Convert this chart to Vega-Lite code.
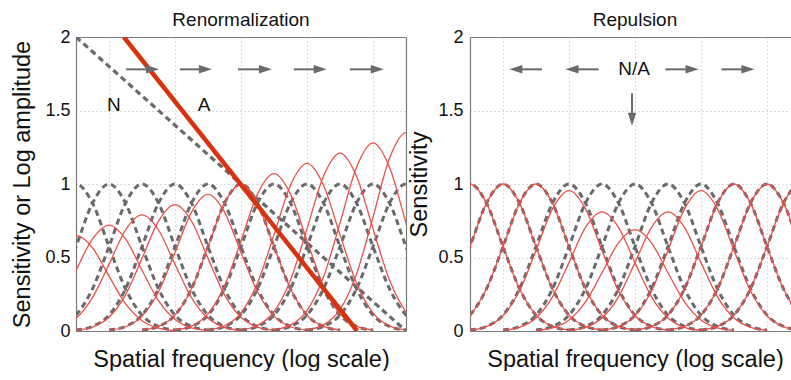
{
 "$schema": "https://vega.github.io/schema/vega-lite/v6.json",
 "padding": {"left": 10, "top": 11, "right": 0, "bottom": 0},
 "background": "white",
 "config": {
  "font": "Liberation Sans",
  "view": {"stroke": null},
  "axis": {"domainColor": "#7a7a7a", "domainWidth": 1.2, "gridColor": "#b8b8b8", "gridDash": [1, 3], "gridWidth": 1, "labelColor": "#111", "labelFontSize": 18, "titleColor": "#111", "titleFontWeight": "normal", "titleFontSize": 23.5, "ticks": false},
  "title": {"fontSize": 19, "fontWeight": "normal", "color": "#111", "baseline": "alphabetic", "offset": -2}
 },
 "spacing": 64,
 "bounds": "flush",
 "datasets": {
  "gray": [
   {"c":0,"x":-0.5,"y":0.87},{"c":0,"x":0,"y":1},{"c":0,"x":0.5,"y":0.87},{"c":0,"x":1,"y":0.574},{"c":0,"x":1.5,"y":0.287},{"c":0,"x":2,"y":0.108},{"c":0,"x":2.5,"y":0.031},{"c":0,"x":3,"y":0.007},
   {"c":1,"x":-0.5,"y":0.287},{"c":1,"x":0,"y":0.574},{"c":1,"x":0.5,"y":0.87},{"c":1,"x":1,"y":1},{"c":1,"x":1.5,"y":0.87},{"c":1,"x":2,"y":0.574},{"c":1,"x":2.5,"y":0.287},{"c":1,"x":3,"y":0.108},{"c":1,"x":3.5,"y":0.031},{"c":1,"x":4,"y":0.007},
   {"c":2,"x":-0.5,"y":0.031},{"c":2,"x":0,"y":0.108},{"c":2,"x":0.5,"y":0.287},{"c":2,"x":1,"y":0.574},{"c":2,"x":1.5,"y":0.87},{"c":2,"x":2,"y":1},{"c":2,"x":2.5,"y":0.87},{"c":2,"x":3,"y":0.574},{"c":2,"x":3.5,"y":0.287},{"c":2,"x":4,"y":0.108},{"c":2,"x":4.5,"y":0.031},{"c":2,"x":5,"y":0.007},
   {"c":3,"x":0,"y":0.007},{"c":3,"x":0.5,"y":0.031},{"c":3,"x":1,"y":0.108},{"c":3,"x":1.5,"y":0.287},{"c":3,"x":2,"y":0.574},{"c":3,"x":2.5,"y":0.87},{"c":3,"x":3,"y":1},{"c":3,"x":3.5,"y":0.87},{"c":3,"x":4,"y":0.574},{"c":3,"x":4.5,"y":0.287},{"c":3,"x":5,"y":0.108},{"c":3,"x":5.5,"y":0.031},{"c":3,"x":6,"y":0.007},
   {"c":4,"x":1,"y":0.007},{"c":4,"x":1.5,"y":0.031},{"c":4,"x":2,"y":0.108},{"c":4,"x":2.5,"y":0.287},{"c":4,"x":3,"y":0.574},{"c":4,"x":3.5,"y":0.87},{"c":4,"x":4,"y":1},{"c":4,"x":4.5,"y":0.87},{"c":4,"x":5,"y":0.574},{"c":4,"x":5.5,"y":0.287},{"c":4,"x":6,"y":0.108},{"c":4,"x":6.5,"y":0.031},{"c":4,"x":7,"y":0.007},
   {"c":5,"x":2,"y":0.007},{"c":5,"x":2.5,"y":0.031},{"c":5,"x":3,"y":0.108},{"c":5,"x":3.5,"y":0.287},{"c":5,"x":4,"y":0.574},{"c":5,"x":4.5,"y":0.87},{"c":5,"x":5,"y":1},{"c":5,"x":5.5,"y":0.87},{"c":5,"x":6,"y":0.574},{"c":5,"x":6.5,"y":0.287},{"c":5,"x":7,"y":0.108},{"c":5,"x":7.5,"y":0.031},{"c":5,"x":8,"y":0.007},
   {"c":6,"x":3,"y":0.007},{"c":6,"x":3.5,"y":0.031},{"c":6,"x":4,"y":0.108},{"c":6,"x":4.5,"y":0.287},{"c":6,"x":5,"y":0.574},{"c":6,"x":5.5,"y":0.87},{"c":6,"x":6,"y":1},{"c":6,"x":6.5,"y":0.87},{"c":6,"x":7,"y":0.574},{"c":6,"x":7.5,"y":0.287},{"c":6,"x":8,"y":0.108},{"c":6,"x":8.5,"y":0.031},{"c":6,"x":9,"y":0.007},
   {"c":7,"x":4,"y":0.007},{"c":7,"x":4.5,"y":0.031},{"c":7,"x":5,"y":0.108},{"c":7,"x":5.5,"y":0.287},{"c":7,"x":6,"y":0.574},{"c":7,"x":6.5,"y":0.87},{"c":7,"x":7,"y":1},{"c":7,"x":7.5,"y":0.87},{"c":7,"x":8,"y":0.574},{"c":7,"x":8.5,"y":0.287},{"c":7,"x":9,"y":0.108},{"c":7,"x":9.5,"y":0.031},{"c":7,"x":10,"y":0.007},
   {"c":8,"x":5,"y":0.007},{"c":8,"x":5.5,"y":0.031},{"c":8,"x":6,"y":0.108},{"c":8,"x":6.5,"y":0.287},{"c":8,"x":7,"y":0.574},{"c":8,"x":7.5,"y":0.87},{"c":8,"x":8,"y":1},{"c":8,"x":8.5,"y":0.87},{"c":8,"x":9,"y":0.574},{"c":8,"x":9.5,"y":0.287},{"c":8,"x":10,"y":0.108},{"c":8,"x":10.5,"y":0.031},
   {"c":9,"x":6,"y":0.007},{"c":9,"x":6.5,"y":0.031},{"c":9,"x":7,"y":0.108},{"c":9,"x":7.5,"y":0.287},{"c":9,"x":8,"y":0.574},{"c":9,"x":8.5,"y":0.87},{"c":9,"x":9,"y":1},{"c":9,"x":9.5,"y":0.87},{"c":9,"x":10,"y":0.574},{"c":9,"x":10.5,"y":0.287},
   {"c":10,"x":7,"y":0.007},{"c":10,"x":7.5,"y":0.031},{"c":10,"x":8,"y":0.108},{"c":10,"x":8.5,"y":0.287},{"c":10,"x":9,"y":0.574},{"c":10,"x":9.5,"y":0.87},{"c":10,"x":10,"y":1},{"c":10,"x":10.5,"y":0.87}
  ],
  "redL": [
   {"c":0,"x":-0.5,"y":0.566},{"c":0,"x":0,"y":0.65},{"c":0,"x":0.5,"y":0.566},{"c":0,"x":1,"y":0.373},{"c":0,"x":1.5,"y":0.186},{"c":0,"x":2,"y":0.07},{"c":0,"x":2.5,"y":0.02},{"c":0,"x":3,"y":0.004},
   {"c":1,"x":-0.5,"y":0.206},{"c":1,"x":0,"y":0.413},{"c":1,"x":0.5,"y":0.626},{"c":1,"x":1,"y":0.72},{"c":1,"x":1.5,"y":0.626},{"c":1,"x":2,"y":0.413},{"c":1,"x":2.5,"y":0.206},{"c":1,"x":3,"y":0.078},{"c":1,"x":3.5,"y":0.022},{"c":1,"x":4,"y":0.005},
   {"c":2,"x":-0.5,"y":0.025},{"c":2,"x":0,"y":0.086},{"c":2,"x":0.5,"y":0.227},{"c":2,"x":1,"y":0.453},{"c":2,"x":1.5,"y":0.687},{"c":2,"x":2,"y":0.79},{"c":2,"x":2.5,"y":0.687},{"c":2,"x":3,"y":0.453},{"c":2,"x":3.5,"y":0.227},{"c":2,"x":4,"y":0.086},{"c":2,"x":4.5,"y":0.025},{"c":2,"x":5,"y":0.005},
   {"c":3,"x":0,"y":0.006},{"c":3,"x":0.5,"y":0.027},{"c":3,"x":1,"y":0.093},{"c":3,"x":1.5,"y":0.246},{"c":3,"x":2,"y":0.494},{"c":3,"x":2.5,"y":0.748},{"c":3,"x":3,"y":0.86},{"c":3,"x":3.5,"y":0.748},{"c":3,"x":4,"y":0.494},{"c":3,"x":4.5,"y":0.246},{"c":3,"x":5,"y":0.093},{"c":3,"x":5.5,"y":0.027},{"c":3,"x":6,"y":0.006},
   {"c":4,"x":1,"y":0.006},{"c":4,"x":1.5,"y":0.029},{"c":4,"x":2,"y":0.101},{"c":4,"x":2.5,"y":0.267},{"c":4,"x":3,"y":0.534},{"c":4,"x":3.5,"y":0.809},{"c":4,"x":4,"y":0.93},{"c":4,"x":4.5,"y":0.809},{"c":4,"x":5,"y":0.534},{"c":4,"x":5.5,"y":0.267},{"c":4,"x":6,"y":0.101},{"c":4,"x":6.5,"y":0.029},{"c":4,"x":7,"y":0.006},
   {"c":5,"x":2,"y":0.007},{"c":5,"x":2.5,"y":0.031},{"c":5,"x":3,"y":0.108},{"c":5,"x":3.5,"y":0.287},{"c":5,"x":4,"y":0.574},{"c":5,"x":4.5,"y":0.87},{"c":5,"x":5,"y":1},{"c":5,"x":5.5,"y":0.87},{"c":5,"x":6,"y":0.574},{"c":5,"x":6.5,"y":0.287},{"c":5,"x":7,"y":0.108},{"c":5,"x":7.5,"y":0.031},{"c":5,"x":8,"y":0.007},
   {"c":6,"x":3,"y":0.007},{"c":6,"x":3.5,"y":0.033},{"c":6,"x":4,"y":0.116},{"c":6,"x":4.5,"y":0.307},{"c":6,"x":5,"y":0.614},{"c":6,"x":5.5,"y":0.931},{"c":6,"x":6,"y":1.07},{"c":6,"x":6.5,"y":0.931},{"c":6,"x":7,"y":0.614},{"c":6,"x":7.5,"y":0.307},{"c":6,"x":8,"y":0.116},{"c":6,"x":8.5,"y":0.033},{"c":6,"x":9,"y":0.007},
   {"c":7,"x":4,"y":0.008},{"c":7,"x":4.5,"y":0.035},{"c":7,"x":5,"y":0.124},{"c":7,"x":5.5,"y":0.327},{"c":7,"x":6,"y":0.654},{"c":7,"x":6.5,"y":0.992},{"c":7,"x":7,"y":1.14},{"c":7,"x":7.5,"y":0.992},{"c":7,"x":8,"y":0.654},{"c":7,"x":8.5,"y":0.327},{"c":7,"x":9,"y":0.124},{"c":7,"x":9.5,"y":0.035},{"c":7,"x":10,"y":0.008},
   {"c":8,"x":5,"y":0.008},{"c":8,"x":5.5,"y":0.038},{"c":8,"x":6,"y":0.131},{"c":8,"x":6.5,"y":0.347},{"c":8,"x":7,"y":0.695},{"c":8,"x":7.5,"y":1.053},{"c":8,"x":8,"y":1.21},{"c":8,"x":8.5,"y":1.053},{"c":8,"x":9,"y":0.695},{"c":8,"x":9.5,"y":0.347},{"c":8,"x":10,"y":0.131},{"c":8,"x":10.5,"y":0.038},
   {"c":9,"x":6,"y":0.009},{"c":9,"x":6.5,"y":0.04},{"c":9,"x":7,"y":0.139},{"c":9,"x":7.5,"y":0.367},{"c":9,"x":8,"y":0.735},{"c":9,"x":8.5,"y":1.114},{"c":9,"x":9,"y":1.28},{"c":9,"x":9.5,"y":1.114},{"c":9,"x":10,"y":0.735},{"c":9,"x":10.5,"y":0.367},
   {"c":10,"x":7,"y":0.009},{"c":10,"x":7.5,"y":0.042},{"c":10,"x":8,"y":0.146},{"c":10,"x":8.5,"y":0.387},{"c":10,"x":9,"y":0.775},{"c":10,"x":9.5,"y":1.175},{"c":10,"x":10,"y":1.35},{"c":10,"x":10.5,"y":1.175}
  ],
  "redR": [
   {"c":3,"x":0,"y":0.006},{"c":3,"x":0.5,"y":0.03},{"c":3,"x":1,"y":0.104},{"c":3,"x":1.5,"y":0.274},{"c":3,"x":2,"y":0.548},{"c":3,"x":2.5,"y":0.831},{"c":3,"x":3,"y":0.955},{"c":3,"x":3.5,"y":0.831},{"c":3,"x":4,"y":0.548},{"c":3,"x":4.5,"y":0.274},{"c":3,"x":5,"y":0.104},{"c":3,"x":5.5,"y":0.03},{"c":3,"x":6,"y":0.006},
   {"c":4,"x":1,"y":0.005},{"c":4,"x":1.5,"y":0.025},{"c":4,"x":2,"y":0.088},{"c":4,"x":2.5,"y":0.232},{"c":4,"x":3,"y":0.465},{"c":4,"x":3.5,"y":0.705},{"c":4,"x":4,"y":0.81},{"c":4,"x":4.5,"y":0.705},{"c":4,"x":5,"y":0.465},{"c":4,"x":5.5,"y":0.232},{"c":4,"x":6,"y":0.088},{"c":4,"x":6.5,"y":0.025},{"c":4,"x":7,"y":0.005},
   {"c":5,"x":2,"y":0.005},{"c":5,"x":2.5,"y":0.021},{"c":5,"x":3,"y":0.075},{"c":5,"x":3.5,"y":0.198},{"c":5,"x":4,"y":0.396},{"c":5,"x":4.5,"y":0.6},{"c":5,"x":5,"y":0.69},{"c":5,"x":5.5,"y":0.6},{"c":5,"x":6,"y":0.396},{"c":5,"x":6.5,"y":0.198},{"c":5,"x":7,"y":0.075},{"c":5,"x":7.5,"y":0.021},{"c":5,"x":8,"y":0.005},
   {"c":6,"x":3,"y":0.005},{"c":6,"x":3.5,"y":0.025},{"c":6,"x":4,"y":0.088},{"c":6,"x":4.5,"y":0.232},{"c":6,"x":5,"y":0.465},{"c":6,"x":5.5,"y":0.705},{"c":6,"x":6,"y":0.81},{"c":6,"x":6.5,"y":0.705},{"c":6,"x":7,"y":0.465},{"c":6,"x":7.5,"y":0.232},{"c":6,"x":8,"y":0.088},{"c":6,"x":8.5,"y":0.025},{"c":6,"x":9,"y":0.005},
   {"c":7,"x":4,"y":0.006},{"c":7,"x":4.5,"y":0.03},{"c":7,"x":5,"y":0.104},{"c":7,"x":5.5,"y":0.274},{"c":7,"x":6,"y":0.548},{"c":7,"x":6.5,"y":0.831},{"c":7,"x":7,"y":0.955},{"c":7,"x":7.5,"y":0.831},{"c":7,"x":8,"y":0.548},{"c":7,"x":8.5,"y":0.274},{"c":7,"x":9,"y":0.104},{"c":7,"x":9.5,"y":0.03},{"c":7,"x":10,"y":0.006}
  ],
  "lines": [
   {"s":"N","x":0,"y":2},{"s":"N","x":10,"y":0},
   {"s":"A","x":1.45,"y":2},{"s":"A","x":8.52,"y":0}
  ],
  "arrL": [
   {"x":1.52,"x2":2.32,"y":1.78,"y2":1.78,"hx":2.32,"hy":1.78,"ang":0},
   {"x":3.15,"x2":3.92,"y":1.78,"y2":1.78,"hx":3.92,"hy":1.78,"ang":0},
   {"x":4.91,"x2":5.74,"y":1.78,"y2":1.78,"hx":5.74,"hy":1.78,"ang":0},
   {"x":6.6,"x2":7.4,"y":1.78,"y2":1.78,"hx":7.4,"hy":1.78,"ang":0},
   {"x":8.3,"x2":9.13,"y":1.78,"y2":1.78,"hx":9.13,"hy":1.78,"ang":0}
  ],
  "arrR": [
   {"x":2.18,"x2":1.39,"y":1.78,"y2":1.78,"hx":1.39,"hy":1.78,"ang":180},
   {"x":3.9,"x2":3.09,"y":1.78,"y2":1.78,"hx":3.09,"hy":1.78,"ang":180},
   {"x":5.92,"x2":6.73,"y":1.78,"y2":1.78,"hx":6.73,"hy":1.78,"ang":0},
   {"x":7.62,"x2":8.42,"y":1.78,"y2":1.78,"hx":8.42,"hy":1.78,"ang":0},
   {"x":4.91,"x2":4.91,"y":1.617,"y2":1.44,"hx":4.91,"hy":1.44,"ang":90}
  ],
  "txtL": [{"t":"N","x":1.15,"y":1.54},{"t":"A","x":3.88,"y":1.54}],
  "txtR": [{"t":"N/A","x":4.97,"y":1.785}]
 },
 "hconcat": [
  {
   "width": 330, "height": 294,
   "title": {"text": "Renormalization"},
   "resolve": {"axis": {"x": "independent", "y": "independent"}},
   "layer": [
    {
     "data": {"name": "gray"},
     "mark": {"type": "line", "clip": true, "interpolate": "monotone", "color": "#6a6a6a", "strokeWidth": 3, "strokeDash": [6, 4]},
     "encoding": {
      "x": {"field": "x", "type": "quantitative", "scale": {"domain": [0, 10], "nice": false, "zero": false}, "axis": {"orient": "bottom", "values": [1, 3, 5, 7, 9], "labels": false, "grid": true, "title": "Spatial frequency (log scale)", "titlePadding": 16}},
      "y": {"field": "y", "type": "quantitative", "scale": {"domain": [0, 2], "nice": false}, "axis": {"orient": "left", "values": [0, 0.5, 1, 1.5, 2], "format": "~g", "labelPadding": 6, "grid": true, "title": "Sensitivity or Log amplitude", "titlePadding": 10}},
      "detail": {"field": "c", "type": "nominal"}
     }
    },
    {
     "data": {"name": "lines"},
     "transform": [{"filter": "datum.s === 'N'"}],
     "mark": {"type": "line", "clip": true, "color": "#6a6a6a", "strokeWidth": 3.2, "strokeDash": [6, 4]},
     "encoding": {
      "x": {"field": "x", "type": "quantitative", "scale": {"domain": [0, 10], "nice": false, "zero": false}, "axis": null},
      "y": {"field": "y", "type": "quantitative", "scale": {"domain": [0, 2], "nice": false}, "axis": null}
     }
    },
    {
     "data": {"name": "redL"},
     "mark": {"type": "line", "clip": true, "interpolate": "monotone", "color": "#e8504a", "strokeWidth": 1.3},
     "encoding": {
      "x": {"field": "x", "type": "quantitative", "scale": {"domain": [0, 10], "nice": false, "zero": false}, "axis": {"orient": "top", "values": [1, 3, 5, 7, 9], "labels": false, "grid": false, "title": null}},
      "y": {"field": "y", "type": "quantitative", "scale": {"domain": [0, 2], "nice": false}, "axis": {"orient": "right", "values": [0, 0.5, 1, 1.5, 2], "labels": false, "grid": false, "title": null}},
      "detail": {"field": "c", "type": "nominal"}
     }
    },
    {
     "data": {"name": "lines"},
     "transform": [{"filter": "datum.s === 'A'"}],
     "mark": {"type": "line", "clip": true, "color": "#d8320f", "strokeWidth": 4.5},
     "encoding": {
      "x": {"field": "x", "type": "quantitative", "scale": {"domain": [0, 10], "nice": false, "zero": false}, "axis": null},
      "y": {"field": "y", "type": "quantitative", "scale": {"domain": [0, 2], "nice": false}, "axis": null}
     }
    },
    {
     "data": {"name": "arrL"},
     "mark": {"type": "rule", "color": "#6a6a6a", "strokeWidth": 2},
     "encoding": {
      "x": {"field": "x", "type": "quantitative", "scale": {"domain": [0, 10], "nice": false, "zero": false}, "axis": null},
      "x2": {"field": "x2"},
      "y": {"field": "y", "type": "quantitative", "scale": {"domain": [0, 2], "nice": false}, "axis": null},
      "y2": {"field": "y2"}
     }
    },
    {
     "data": {"name": "arrL"},
     "mark": {"type": "point", "filled": true, "opacity": 1, "color": "#6a6a6a", "shape": "M1,0L-1,-0.65L-1,0.65Z", "size": 169},
     "encoding": {
      "x": {"field": "hx", "type": "quantitative", "scale": {"domain": [0, 10], "nice": false, "zero": false}, "axis": null},
      "y": {"field": "hy", "type": "quantitative", "scale": {"domain": [0, 2], "nice": false}, "axis": null},
      "angle": {"field": "ang", "type": "quantitative", "scale": null}
     }
    },
    {
     "data": {"name": "txtL"},
     "mark": {"type": "text", "fontSize": 19, "color": "#111", "align": "center", "baseline": "middle"},
     "encoding": {
      "x": {"field": "x", "type": "quantitative", "scale": {"domain": [0, 10], "nice": false, "zero": false}, "axis": null},
      "y": {"field": "y", "type": "quantitative", "scale": {"domain": [0, 2], "nice": false}, "axis": null},
      "text": {"field": "t"}
     }
    }
   ]
  },
  {
   "width": 323, "height": 294,
   "title": {"text": "Repulsion", "dx": 3.5},
   "resolve": {"axis": {"x": "independent", "y": "independent"}},
   "layer": [
    {
     "data": {"name": "gray"},
     "mark": {"type": "line", "clip": true, "interpolate": "monotone", "color": "#6a6a6a", "strokeWidth": 3, "strokeDash": [6, 4]},
     "encoding": {
      "x": {"field": "x", "type": "quantitative", "scale": {"domain": [0, 9.788], "nice": false, "zero": false}, "axis": {"orient": "bottom", "values": [1, 3, 5, 7, 9], "labels": false, "grid": true, "title": "Spatial frequency (log scale)", "titlePadding": 16, "titleX": 165}},
      "y": {"field": "y", "type": "quantitative", "scale": {"domain": [0, 2], "nice": false}, "axis": {"orient": "left", "values": [0, 0.5, 1, 1.5, 2], "format": "~g", "labelPadding": 7, "grid": true, "title": "Sensitivity", "titlePadding": 6}},
      "detail": {"field": "c", "type": "nominal"}
     }
    },
    {
     "data": {"name": "gray"},
     "transform": [{"filter": "datum.c <= 2 || datum.c >= 8"}],
     "mark": {"type": "line", "clip": true, "interpolate": "monotone", "color": "#e8504a", "strokeWidth": 1.3},
     "encoding": {
      "x": {"field": "x", "type": "quantitative", "scale": {"domain": [0, 9.788], "nice": false, "zero": false}, "axis": {"orient": "top", "values": [1, 3, 5, 7, 9], "labels": false, "grid": false, "title": null}},
      "y": {"field": "y", "type": "quantitative", "scale": {"domain": [0, 2], "nice": false}, "axis": null},
      "detail": {"field": "c", "type": "nominal"}
     }
    },
    {
     "data": {"name": "redR"},
     "mark": {"type": "line", "clip": true, "interpolate": "monotone", "color": "#e8504a", "strokeWidth": 1.3},
     "encoding": {
      "x": {"field": "x", "type": "quantitative", "scale": {"domain": [0, 9.788], "nice": false, "zero": false}, "axis": null},
      "y": {"field": "y", "type": "quantitative", "scale": {"domain": [0, 2], "nice": false}, "axis": null},
      "detail": {"field": "c", "type": "nominal"}
     }
    },
    {
     "data": {"name": "arrR"},
     "mark": {"type": "rule", "color": "#6a6a6a", "strokeWidth": 2},
     "encoding": {
      "x": {"field": "x", "type": "quantitative", "scale": {"domain": [0, 9.788], "nice": false, "zero": false}, "axis": null},
      "x2": {"field": "x2"},
      "y": {"field": "y", "type": "quantitative", "scale": {"domain": [0, 2], "nice": false}, "axis": null},
      "y2": {"field": "y2"}
     }
    },
    {
     "data": {"name": "arrR"},
     "mark": {"type": "point", "filled": true, "opacity": 1, "color": "#6a6a6a", "shape": "M1,0L-1,-0.65L-1,0.65Z", "size": 169},
     "encoding": {
      "x": {"field": "hx", "type": "quantitative", "scale": {"domain": [0, 9.788], "nice": false, "zero": false}, "axis": null},
      "y": {"field": "hy", "type": "quantitative", "scale": {"domain": [0, 2], "nice": false}, "axis": null},
      "angle": {"field": "ang", "type": "quantitative", "scale": null}
     }
    },
    {
     "data": {"name": "txtR"},
     "mark": {"type": "text", "fontSize": 19, "color": "#111", "align": "center", "baseline": "middle"},
     "encoding": {
      "x": {"field": "x", "type": "quantitative", "scale": {"domain": [0, 9.788], "nice": false, "zero": false}, "axis": null},
      "y": {"field": "y", "type": "quantitative", "scale": {"domain": [0, 2], "nice": false}, "axis": null},
      "text": {"field": "t"}
     }
    }
   ]
  }
 ]
}
